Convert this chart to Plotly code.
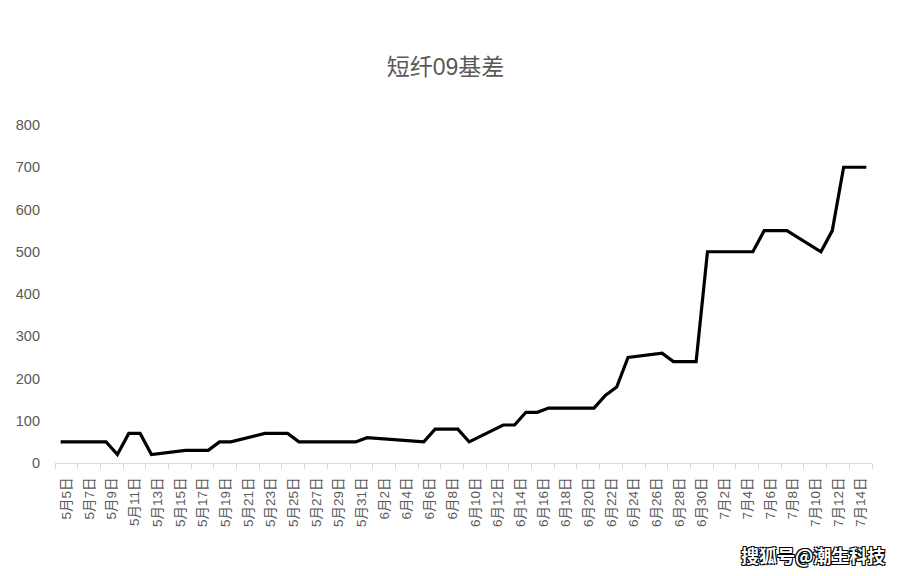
import plotly.graph_objects as go
from datetime import date, timedelta

# Trading dates (2022) and basis values
dates = [
    "2022-05-05", "2022-05-06", "2022-05-09", "2022-05-10", "2022-05-11", "2022-05-12", "2022-05-13",
    "2022-05-16", "2022-05-17", "2022-05-18", "2022-05-19", "2022-05-20",
    "2022-05-23", "2022-05-24", "2022-05-25", "2022-05-26", "2022-05-27",
    "2022-05-30", "2022-05-31", "2022-06-01", "2022-06-02",
    "2022-06-06", "2022-06-07", "2022-06-08", "2022-06-09", "2022-06-10",
    "2022-06-13", "2022-06-14", "2022-06-15", "2022-06-16", "2022-06-17",
    "2022-06-20", "2022-06-21", "2022-06-22", "2022-06-23", "2022-06-24",
    "2022-06-27", "2022-06-28", "2022-06-29", "2022-06-30", "2022-07-01",
    "2022-07-04", "2022-07-05", "2022-07-06", "2022-07-07", "2022-07-08",
    "2022-07-11", "2022-07-12", "2022-07-13", "2022-07-14", "2022-07-15",
]
basis = [
    50, 50, 50, 20, 70, 70, 20,
    30, 30, 30, 50, 50,
    70, 70, 70, 50, 50,
    50, 50, 60, 58,
    50, 80, 80, 80, 50,
    90, 90, 120, 120, 130,
    130, 130, 160, 180, 250,
    260, 240, 240, 240, 500,
    500, 500, 550, 550, 550,
    500, 550, 700, 700, 700,
]

# Tick labels every 2 days
tick_dates = []
d = date(2022, 5, 5)
while d <= date(2022, 7, 14):
    tick_dates.append(d)
    d += timedelta(days=2)
tick_vals = [t.isoformat() for t in tick_dates]
tick_text = [f"{t.month}月{t.day}日" for t in tick_dates]
y_ticks = [0, 100, 200, 300, 400, 500, 600, 700, 800]

W, H = 907, 576
OFF = 8  # page body offset
L, R, T, B = 55 - OFF, 35 + OFF, 125 - OFF, 113 + OFF

FONT = "Liberation Sans, Noto Sans CJK SC, sans-serif"

fig = go.Figure()
fig.add_trace(go.Scatter(
    x=dates, y=basis, mode="lines",
    line=dict(color="#000000", width=3.2),
    hoverinfo="x+y", showlegend=False,
))

grey = "#595959"
fig.update_layout(
    width=W, height=H,
    margin=dict(l=L, r=R, t=T, b=B, autoexpand=False),
    paper_bgcolor="white", plot_bgcolor="white",
    font=dict(family=FONT, color=grey),
    title=dict(text="短纤09基差", xref="container", x=(445.5 - OFF) / W, xanchor="center",
               yref="container", y=1 - (67 - OFF) / H, yanchor="middle",
               font=dict(size=23, color=grey, family=FONT)),
    xaxis=dict(
        type="date",
        range=["2022-05-04 12:00", "2022-07-15 12:00"],
        tickmode="array", tickvals=tick_vals, ticktext=tick_text,
        tickangle=-90, ticks="", ticklabelshift=6, ticklabelstandoff=8,
        tickfont=dict(size=13.5, color=grey, family=FONT),
        showgrid=False, zeroline=False,
        showline=True, linecolor="#d9d9d9", linewidth=1,
        minor=dict(ticks="outside", ticklen=5, tickcolor="#d9d9d9", tickwidth=1,
                   tick0="2022-05-04 12:00", dtick=2 * 86400000, showgrid=False),
    ),
    yaxis=dict(
        range=[0, 800], tickmode="array", tickvals=y_ticks,
        showgrid=False, zeroline=False, showline=False, ticks="",
        tickfont=dict(size=14.5, color=grey, family=FONT), ticklabelstandoff=14,
    ),
    annotations=[dict(
        text="搜狐号@潮生科技", xref="paper", yref="paper",
        x=(887 - 55) / (W - 90), y=-(555 - 463) / (463 - 125),
        xanchor="right", yanchor="middle", showarrow=False,
        font=dict(size=18, color="white", family="Noto Sans CJK SC, sans-serif", weight="bold",
                  shadow="-1px -1px 0 #000, 1px -1px 0 #000, -1px 1px 0 #000, 1px 1px 0 #000"),
    )],
)

fig.write_html("out.html")
